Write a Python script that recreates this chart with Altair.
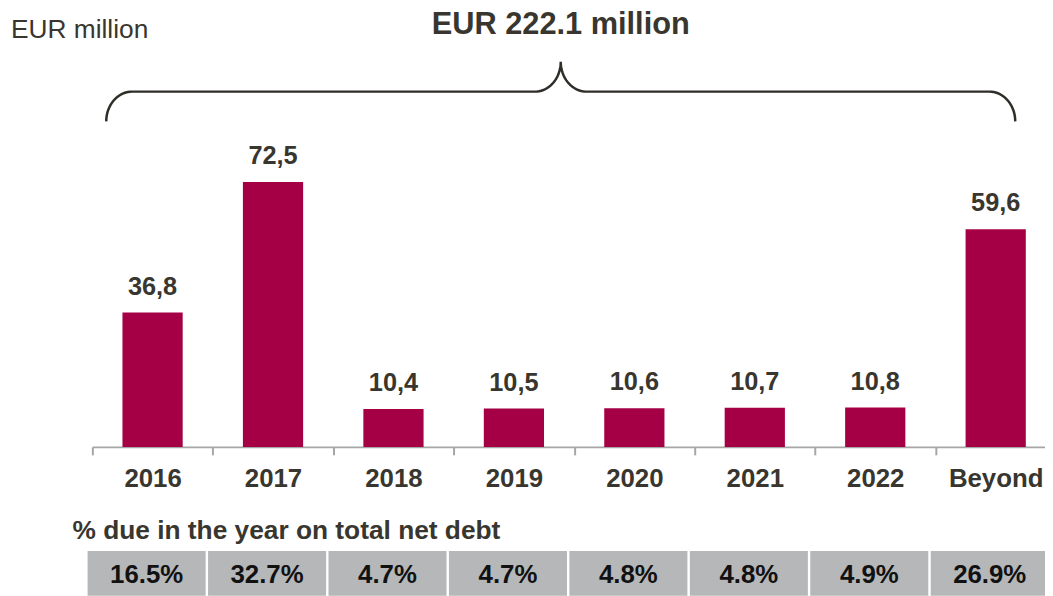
import altair as alt
import numpy as np
import pandas as pd

# ---- data ----
categories = ["2016", "2017", "2018", "2019", "2020", "2021", "2022", "Beyond"]
values = [36.8, 72.5, 10.4, 10.5, 10.6, 10.7, 10.8, 59.6]
value_labels = ["36,8", "72,5", "10,4", "10,5", "10,6", "10,7", "10,8", "59,6"]
pct_labels = ["16.5%", "32.7%", "4.7%", "4.7%", "4.8%", "4.8%", "4.9%", "26.9%"]
total_title = "EUR 222.1 million"
unit_label = "EUR million"
table_title = "% due in the year on total net debt"

# ---- styling ----
FONT = "Liberation Sans"
TEXT = "#38362E"
BAR = "#A50045"
CELL = "#B5B7B9"
W, H = 971, 398   # the last category runs past the right edge of the picture

df = pd.DataFrame({"cat": categories, "value": values,
                   "label": value_labels, "pct": pct_labels})

xenc = alt.X("cat:N", sort=categories,
             scale=alt.Scale(paddingInner=0, paddingOuter=0),
             axis=alt.Axis(title=None, labelAngle=0, labelFont=FONT, labelFontSize=26,
                           labelFontWeight="bold", labelColor=TEXT,
                           domainColor="#A6A6A6", domainWidth=2,
                           tickColor="#A6A6A6", tickWidth=2, tickSize=8,
                           tickBand="extent", labelPadding=32,
                           labelBaseline="alphabetic"))
yenc = alt.Y("value:Q", scale=alt.Scale(domain=[0, 108.15], nice=False), axis=None)
xplain = alt.X("cat:N", sort=categories)

base = alt.Chart(df)
bars = base.mark_bar(color=BAR, width=alt.RelativeBandSize(0.5)).encode(x=xenc, y=yenc)
vlabels = base.mark_text(font=FONT, fontSize=25.5, fontWeight="bold", color=TEXT,
                         baseline="alphabetic", dy=-18).encode(
    x=xplain, y="value:Q", text="label:N")

cells = base.mark_bar(color=CELL, width=alt.RelativeBandSize(0.98), xOffset=-6).encode(
    x=xplain, y=alt.value(H + 105), y2=alt.value(H + 150))
cell_text = base.mark_text(font=FONT, fontSize=26, fontWeight="bold", color="#111111",
                           baseline="alphabetic", xOffset=-6).encode(
    x=xplain, y=alt.value(H + 137), text="pct:N")

txt = pd.DataFrame({"t": [total_title, unit_label, table_title]})
title_t = alt.Chart(txt.iloc[[0]]).mark_text(font=FONT, fontSize=31, fontWeight="bold",
                                              color=TEXT, baseline="alphabetic", align="center").encode(
    x=alt.value(472), y=alt.value(-18), text="t:N")
unit_t = alt.Chart(txt.iloc[[1]]).mark_text(font=FONT, fontSize=26.5, color=TEXT,
                                             baseline="alphabetic", align="left").encode(
    x=alt.value(-82), y=alt.value(-14), text="t:N")
table_t = alt.Chart(txt.iloc[[2]]).mark_text(font=FONT, fontSize=26.5, fontWeight="bold",
                                              color=TEXT, baseline="alphabetic", align="left").encode(
    x=alt.value(-20), y=alt.value(H + 93), text="t:N")

main = alt.layer(bars, vlabels, cells, cell_text, title_t, unit_t, table_t)

# ---- curly brace decoration (pixel geometry) ----
bl, br, bc = 14, 930, 472          # left end, right end, tip
y_end, y_h, y_tip = 70, 40, 10
rx, ry = 26, 30
t = np.linspace(0, np.pi / 2, 20)
xs, ys = [], []
xs += list(bl + rx - rx * np.cos(t)); ys += list(y_end - ry * np.sin(t))
xs += list(bc - rx + rx * np.sin(t)); ys += list(y_tip + ry * np.cos(t))
xs += list(bc + rx - rx * np.cos(t)); ys += list(y_tip + ry * np.sin(t))
xs += list(br - rx + rx * np.sin(t)); ys += list(y_h + ry * (1 - np.cos(t)))
brace_df = pd.DataFrame({"bx": xs, "by": ys, "i": range(len(xs))})
brace = alt.Chart(brace_df).mark_line(color="#2F2D27", strokeWidth=2.5).encode(
    x=alt.X("bx:Q", scale=alt.Scale(domain=[0, W], range=[0, W]), axis=None),
    y=alt.Y("by:Q", scale=alt.Scale(domain=[0, H], range=[0, H]), axis=None),
    order="i:Q")

chart = alt.layer(main, brace).resolve_scale(
    x="independent", y="independent").properties(
    width=W, height=H,
    autosize=alt.AutoSizeParams(type="none"),
    padding={"expr": "{left: 85, top: 42, right: -11, bottom: 148}"},
).configure_view(stroke=None)

chart.save("out.html", embed_options={"renderer": "svg", "actions": False})
